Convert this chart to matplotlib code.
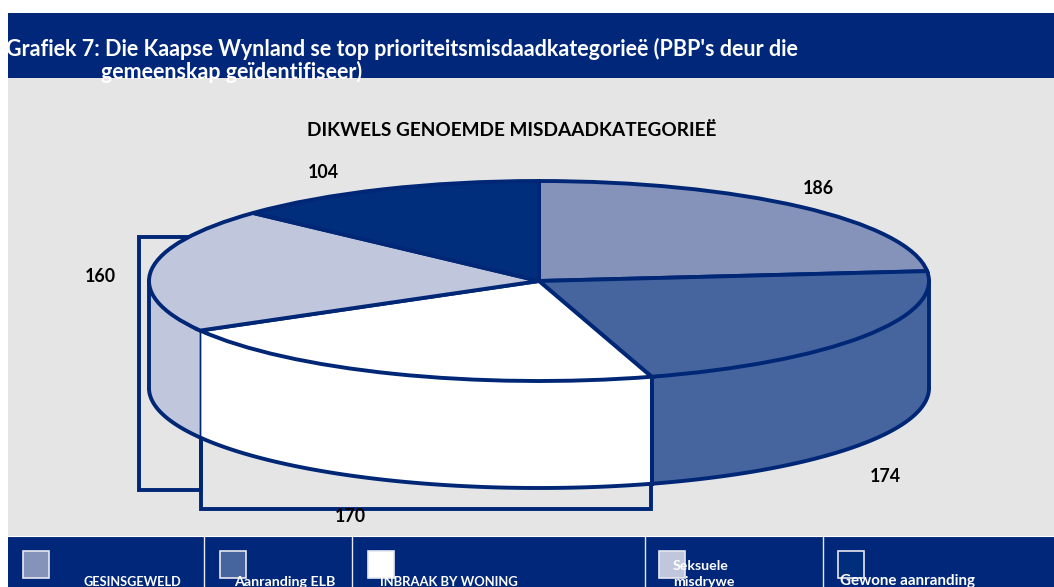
import numpy as np
import matplotlib
matplotlib.use("Agg")
import matplotlib.pyplot as plt
from matplotlib.patches import Rectangle, Polygon

categories = ["GESINSGEWELD", "Aanranding ELB", "INBRAAK BY WONING", "Seksuele\nmisdrywe", "Gewone aanranding"]
values = [186, 174, 170, 160, 104]
slice_colors = ["#8593BB", "#46659F", "#FFFFFF", "#C0C6DC", "#002E7C"]
value_label_px = [(818, 188), (885, 476), (350, 517), (100, 277), (323, 172)]
title_lines = ["Grafiek 7: Die Kaapse Wynland se top prioriteitsmisdaadkategorieë (PBP's deur die", "gemeenskap geïdentifiseer)"]
chart_title = "DIKWELS GENOEMDE MISDAADKATEGORIEË"
legend_sizes = [9.2, 10.3, 9.4, 10.2, 10.9]

NAVY = "#00277A"
LINE = "#002776"
W, H = 1054, 587
FONT = "Lato"
LW = 2.8
cx, cy, a, b, depth = 539, 281, 390, 100, 107

fig = plt.figure(figsize=(W / 100, H / 100), dpi=100, facecolor="white")

# pixel layer for background
bg = fig.add_axes([0, 0, 1, 1], zorder=0)
bg.set_xlim(0, W); bg.set_ylim(H, 0); bg.axis("off")
bg.add_patch(Rectangle((8, 78), W - 8, 458, fc="#E5E5E5", ec="none"))
bg.add_patch(Rectangle((8, 13), W - 8, 65, fc=NAVY, ec="none"))
bg.add_patch(Rectangle((8, 536), W - 8, 51, fc=NAVY, ec="none"))
bg.plot([8, W], [535.5, 535.5], color="#FFFFFF", lw=0.8)
for x in [203.5, 351.5, 644.5, 823]:
    bg.plot([x, x], [536, H], color="#E8E8F0", lw=1.0)
bg.add_patch(Rectangle((139, 237), 61.5, 252.5, fc="none", ec=LINE, lw=LW))
bg.add_patch(Rectangle((200.5, 330), 450.5, 178.5, fc="none", ec=LINE, lw=LW))

# pie layer: unit circle squashed to the ellipse by the axes limits
ax = fig.add_axes([0, 0, 1, 1], zorder=1)
ax.patch.set_alpha(0)
fr = np.cumsum([0] + values) / sum(values) * 2 * np.pi
d = depth / b
for i, col in enumerate(slice_colors):
    lo, hi = max(fr[i], np.pi / 2), min(fr[i + 1], 3 * np.pi / 2)
    if hi <= lo:
        continue
    t = np.linspace(lo, hi, 120)
    xs, ys = np.sin(t), np.cos(t)
    pts = np.r_[np.c_[xs, ys], np.c_[xs[::-1], ys[::-1] - d]]
    ax.add_patch(Polygon(pts, closed=True, fc=col, ec="none", zorder=1))
    ax.plot(xs, ys - d, color=LINE, lw=LW, zorder=2, solid_capstyle="round")
    # side edges: the outer silhouette and the blue/white seam are heavy, white/lilac is thin
    for e, w in ((lo, LW if i < 3 else 1.0), (hi, LW if i != 2 else 1.0)):
        ax.plot([np.sin(e)] * 2, [np.cos(e), np.cos(e) - d], color=LINE, lw=w, zorder=2)
wedges, _ = ax.pie(values, colors=slice_colors, startangle=90, counterclock=False, radius=1,
                   wedgeprops=dict(edgecolor=LINE, linewidth=LW, zorder=3))
ax.set_aspect("auto")
ax.set_xlim(-cx / a, (W - cx) / a)
ax.set_ylim(-(H - cy) / b, cy / b)
ax.axis("off")

# text layer
tx = fig.add_axes([0, 0, 1, 1], zorder=2)
tx.set_xlim(0, W); tx.set_ylim(H, 0); tx.axis("off")
clip = Rectangle((8, 13), W - 8, 65, transform=tx.transData)
t1 = tx.text(6, 49, title_lines[0], color="white", fontsize=15.5, fontweight="bold", family=FONT, va="center")
t2 = tx.text(101, 72, title_lines[1], color="white", fontsize=15.5, fontweight="bold", family=FONT, va="center")
t1.set_clip_path(clip); t2.set_clip_path(clip)
tx.text(512, 130, chart_title, color="black", fontsize=13.7, fontweight="bold", family=FONT, ha="center", va="center")
for v, (x, y) in zip(values, value_label_px):
    tx.text(x, y, str(v), color="black", fontsize=12.8, fontweight="bold", family=FONT, ha="center", va="center")

swatch_x = [23, 220, 368, 659, 838]
legend_text_x = [83, 234, 380, 673, 840]
for sx, lx, col, cat, fs in zip(swatch_x, legend_text_x, slice_colors, categories, legend_sizes):
    tx.add_patch(Rectangle((sx, 550.5), 26, 27, fc=col, ec="#E8E8F0", lw=1.2))
    tx.text(lx, 585.5, cat, color="white", fontsize=fs, fontweight="bold", family=FONT,
            ha="left", va="baseline", linespacing=1.3, zorder=5)

fig.savefig("out.png", dpi=100, facecolor="white")
